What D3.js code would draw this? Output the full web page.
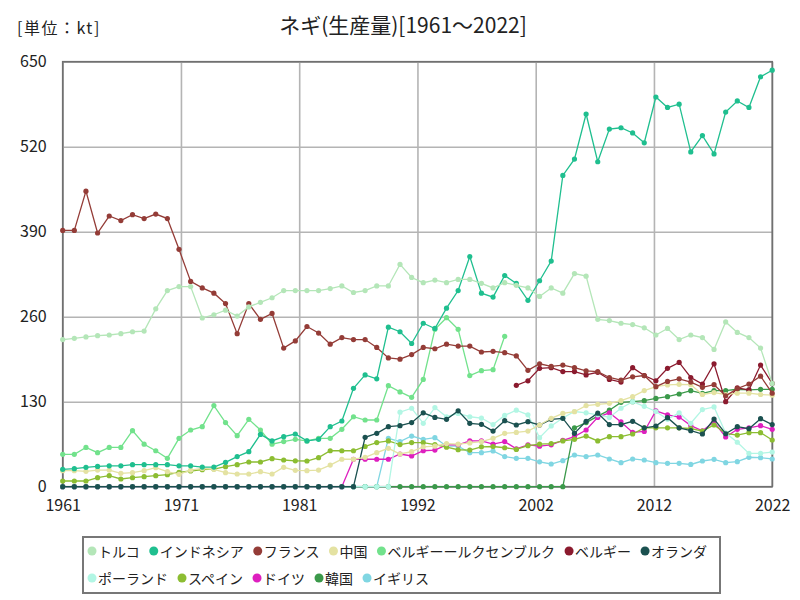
<!DOCTYPE html>
<html><head><meta charset="utf-8">
<script src="https://cdn.jsdelivr.net/npm/d3@7"></script>
<style>
body{margin:0;background:#fff;}
text{font-family:"Noto Sans CJK JP","Noto Sans",sans-serif;fill:#222;}
</style></head>
<body><svg id="chart" width="800" height="600"></svg>
<script>
const years = d3.range(1961, 2023);
const legendLabels = ["トルコ","インドネシア","フランス","中国","ベルギーールクセンブルク","ベルギー","オランダ","ポーランド","スペイン","ドイツ","韓国","イギリス"];
const colors = ["#b4e6b8","#1fbf8f","#943c37","#e4e2a2","#72e28c","#8b1a2e","#1b5150","#b2f6e4","#8cbd32","#de1fbf","#3b994a","#80d6e2"];

const turkey = [225,227,229,231,232,234,237,238,272,300, 306,306,258,263,270,261,275,282,289,300, 300,300,300,303,307,297,300,307,307,340, 320,312,316,312,317,317,311,304,312,308, 304,291,304,296,326,322,256,254,250,248, 243,232,242,225,232,228,210,252,236,228, 212,158];
const indonesia = [26.6,27.5,29.7,31,32,32,33.7,33.7,33.7,33.7, 32,32,30,30,37.3,46,53.5,80,70,76.5, 80.6,70,72.5,91.8,100.5,150.5,171,165,244,237, 219,250,242,273,300,352,296,290,323,311, 285,315,345,476,501,570,497,547,549,541, 526,596,580,585,512,537,509,573,590,580, 627,637];
const france = [392,392,452,388,414,407,416,410,417,410, 363,314,304,296,280,234,280,256,265,212, 223,245,235,218,228,225,225,213,197,195, 202,213,211,218,215,215,206,207,205,200, 178,188,184,186,182,177,176,167,163,168, 170,153,161,165,160,152,156,139,150,157, 169,143];
const china = [24.5,24.5,23.5,25.5,25.5,20.4,21.4,24.5,29,23, 19,25.5,28,26.6,21.4,19.4,19.4,23,19.4,29.7, 25,24.5,25.5,33,42,42,45,52,58.7,50, 53.5,61,62,66,65,67,69,74,81.6,83, 85,94.4,104.6,112,114.7,124,126,127.5,131.5,137.7, 147,153,155.6,156.6,156,141,144,141,143,143, 141,140];
const belLux = [49.5,49.5,60,52,60,60,85.7,65,55,43.4, 74,86.7,91.8,124,98,78,103,86.7,65,69, 72.5,70,74,74,87.8,107,102,102,154.5,145, 136.7,164,240.7,258.5,240.7,170,177.4,179,230,null, null,null,null,null,null,null,null,null,null,null, null,null,null,null,null,null,null,null,null,null, null,null];
const belgium = [null,null,null,null,null,null,null,null,null,null, null,null,null,null,null,null,null,null,null,null, null,null,null,null,null,null,null,null,null,null, null,null,null,null,null,null,null,null,null,155, 162,181,182,176,176,171,175,164,160,182, 170,162,181,190,167,157,188,130,151,148, 186,158];
const netherlands = [0,0,0,0,0,0,0,0,0,0, 0,0,0,0,0,0,0,0,0,0, 0,0,0,0,0,0,75.5,81.6,91.8,93.3, 98,113,106,103,116,97,95.4,85,101,94.4, 99.4,94.4,103,104.6,81.6,100,112.5,95,95,100, 90,92.8,105.6,90,85.7,80.6,103.5,81,91.8,88.7, 104,95];
const poland = [0,0,0,0,0,0,0,0,0,0, 0,0,0,0,0,0,0,0,0,0, 0,0,0,0,0,0,0,0,0,114, 120,97,121,107,112,107,105,95,109,117, 110,75,93,105,115,113,110,106,120,130, 123,115,103,113,97,118,122,82,68,51, 51,53];
const spain = [8.7,8.7,8.7,13.8,16.8,11.8,13.8,15.3,16.8,18.4, 22,24,26,27,30.6,33.7,37.8,37.8,42.8,40.8, 39.5,39.3,44.4,55,55,55,61.5,67.5,70,64.5, 67.5,67.5,64.5,60.5,56.5,56,61,61.5,59.6,57, 62.7,65,66,70,72.5,77.5,70,76.5,76.5,80.6, 90,90,90,90,89,85,94.4,81.6,79,82.6, 82.6,71.4];
const germany = [0,0,0,0,0,0,0,0,0,0, 0,0,0,0,0,0,0,0,0,0, 0,0,0,0,0,42,42,42,42,50, 47,55,56,64,64,70,70,65,69,58, 64,62,64,71,76.5,86.7,106,113,99,83, 84.5,116,110,106.5,93.5,85.4,99,76,87.8,90, 93.4,87.8];
const korea = [0,0,0,0,0,0,0,0,0,0, 0,0,0,0,0,0,0,0,0,0, 0,0,0,0,0,0,0,0,0,0, 0,0,0,0,0,0,0,0,0,0, 0,0,0,0,90,98,108,117,129,130, 131.5,135,137.7,141.8,146.8,142.8,146.8,146.8,149,148, 149,149];
const uk = [0,0,0,0,0,0,0,0,0,0, 0,0,0,0,0,0,0,0,0,0, 0,0,0,0,0,0,0,0,74,69, 77.5,72.5,75,62,62,52,52,54.6,46,43.4, 43.4,38,34.7,39.8,48.5,46,48.5,42.4,36.7,42.4, 40.8,36.7,35.7,35.7,34,39.3,41.9,36.7,38.2,45, 44.4,42.4];

const allValues = [turkey,indonesia,france,china,belLux,belgium,netherlands,poland,spain,germany,korea,uk];
const yTicks = [0,130,260,390,520,650];
const xTickCount = 6;
const titleText = "ネギ(生産量)[1961～2022]";
const unitText = "[単位：kt]";

const svg = d3.select("#chart");
const L = 62.7, R = 772.2, T = 61.7, B = 486.7;
const x = d3.scaleLinear().domain([1961, 2022]).range([L, R]);
const y = d3.scaleLinear().domain([0, 650]).range([B, T]);

svg.append("text").attr("x", 403).attr("y", 33).attr("text-anchor","middle")
  .style("font-size","21px").text(titleText);
svg.append("text").attr("x", 17).attr("y", 34)
  .style("font-size","16px").style("letter-spacing","1.5px").text(unitText);

// grid
const xTicks = d3.range(0, xTickCount+1).map(i => 1961 + i*(2022-1961)/xTickCount);
const gx = svg.append("g").attr("transform", `translate(0,${B})`)
  .call(d3.axisBottom(x).tickValues(xTicks).tickSize(-(B-T)).tickPadding(13)
    .tickFormat(d => Math.round(d)));
gx.select(".domain").remove();
gx.selectAll("line").attr("stroke","#b4b4b4").attr("stroke-width",1.6);
gx.selectAll("text").style("font-size","16px").attr("fill","#222");

const gy = svg.append("g").attr("transform", `translate(${L},0)`)
  .call(d3.axisLeft(y).tickValues(yTicks).tickSize(-(R-L)).tickPadding(16));
gy.select(".domain").remove();
gy.selectAll("line").attr("stroke","#b4b4b4").attr("stroke-width",1.6);
gy.selectAll("text").style("font-size","16px").attr("fill","#222");

// frame
svg.append("rect").attr("x",L).attr("y",T).attr("width",R-L).attr("height",B-T)
  .attr("fill","none").attr("stroke","#707070").attr("stroke-width",1.6);

// series, drawn in reverse so earlier legend items end up on top
const line = d3.line().defined(d => d[1] !== null).x(d => x(d[0])).y(d => y(d[1]));
const order = d3.range(allValues.length).reverse();
order.forEach(i => {
  const data = years.map((yr, k) => [yr, allValues[i][k]]);
  const g = svg.append("g");
  g.append("path").datum(data).attr("d", line).attr("fill","none")
    .attr("stroke", colors[i]).attr("stroke-width", 1.3);
  g.selectAll("circle").data(data.filter(d => d[1] !== null)).join("circle")
    .attr("cx", d => x(d[0])).attr("cy", d => y(d[1])).attr("r", 2.6)
    .attr("fill", colors[i]);
});

// legend
const lg = svg.append("g");
lg.append("rect").attr("x",83).attr("y",537).attr("width",637).attr("height",56)
  .attr("fill","#fff").attr("stroke","#777").attr("stroke-width",2);
let lx = 92, ly = 551;
legendLabels.forEach((name, i) => {
  const it = lg.append("g");
  const t = it.append("text").attr("x", 6).attr("y", 5.5).style("font-size","14px").text(name);
  const w = t.node().getComputedTextLength();
  if (lx + 6 + w > 718) { lx = 92; ly += 27; }
  it.attr("transform", `translate(${lx},${ly})`);
  it.append("circle").attr("cx",0).attr("cy",0).attr("r",4.5).attr("fill",colors[i]);
  lx += 6 + w + 14;
});
</script></body></html>
